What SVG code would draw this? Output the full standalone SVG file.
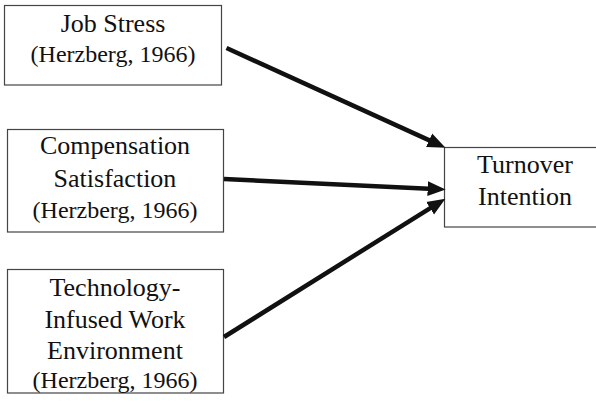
<svg xmlns="http://www.w3.org/2000/svg" width="596" height="403" viewBox="0 0 596 403">
<style>
.box{fill:#fff;stroke:#444;stroke-width:1.2}
text{font-family:'Liberation Serif','Times New Roman',serif;fill:#111;text-anchor:middle}
.t{font-size:26px}
.c{font-size:24px}
.e{stroke:#111;stroke-width:4.5;fill:none;marker-end:url(#ah)}
</style>
<defs>
<marker id="ah" markerUnits="userSpaceOnUse" markerWidth="18" markerHeight="16" refX="6" refY="7" orient="auto" viewBox="0 0 17 14">
<path d="M0,0 L17,7 L0,14 z" fill="#111"/>
</marker>
</defs>
<rect width="596" height="403" fill="#fff"/>
<g id="job-stress">
<rect class="box" x="4.5" y="5.5" width="217" height="79.5"/>
<text class="t" x="113" y="32">Job Stress</text>
<text class="c" x="113" y="62">(Herzberg, 1966)</text>
</g>
<g id="compensation">
<rect class="box" x="7.5" y="129.5" width="216" height="102.5"/>
<text class="t" x="115" y="154">Compensation</text>
<text class="t" x="115" y="187">Satisfaction</text>
<text class="c" x="115" y="218">(Herzberg, 1966)</text>
</g>
<g id="technology">
<rect class="box" x="7.5" y="269.5" width="216" height="123.5"/>
<text class="t" x="115" y="296">Technology-</text>
<text class="t" x="115" y="328">Infused Work</text>
<text class="t" x="115" y="359">Environment</text>
<text class="c" x="115" y="388">(Herzberg, 1966)</text>
</g>
<g id="turnover">
<rect class="box" x="444.5" y="147.5" width="160" height="79.5"/>
<text class="t" x="525" y="173">Turnover</text>
<text class="t" x="525" y="205">Intention</text>
</g>
<g id="connectors">
<line class="e" x1="226.5" y1="48" x2="434.9" y2="142.9"/>
<line class="e" x1="224" y1="179" x2="434" y2="189"/>
<line class="e" x1="224" y1="337" x2="435.5" y2="204.8"/>
</g>
</svg>
